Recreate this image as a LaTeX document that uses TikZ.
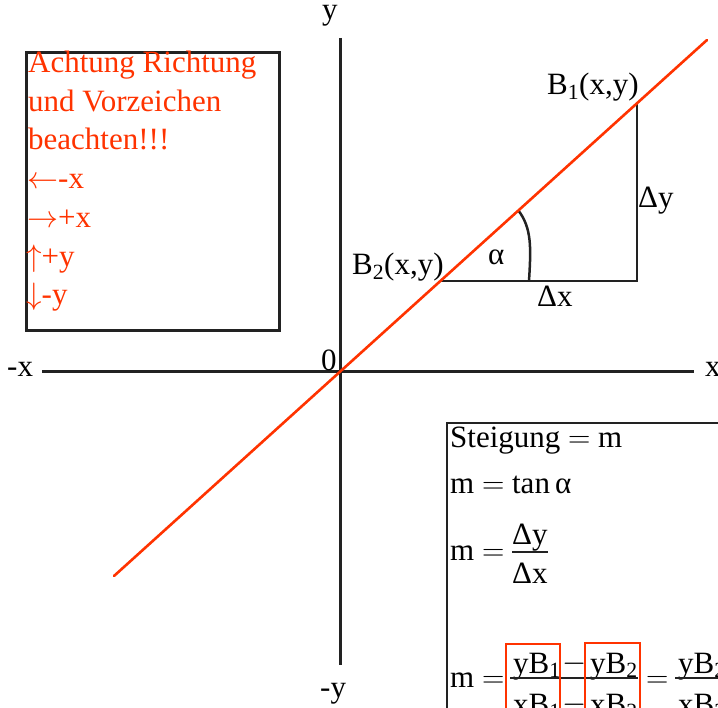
\RequirePackage{fix-cm}
\documentclass[tikz,border=0pt]{standalone}
\usepackage{fontspec}
\setmainfont{Liberation Serif}
\definecolor{rd}{HTML}{FF3300}
\definecolor{ink}{HTML}{222222}
\begin{document}
\begin{tikzpicture}[x=1pt,y=-1pt,
  txt/.style={anchor=base west, inner sep=0pt, font=\fontsize{31}{38}\selectfont},
  rtxt/.style={txt, text=rd},
  axis/.style={draw=ink, line width=3pt},
  frame/.style={draw=ink, line width=2.8pt},
  tri/.style={draw=ink, line width=2.5pt},
  graph/.style={draw=rd, line width=2.6pt, line cap=round},
  hl/.style={draw=rd, line width=2.2pt},
  bar/.style={draw=ink, line width=1.3pt}]
\useasboundingbox (0,0) rectangle (718,708);
\clip (0,0) rectangle (718,708);
% axes
\coordinate (yt) at (340,38);
\coordinate (yb) at (340,665);
\coordinate (xl) at (42,372);
\coordinate (xr) at (694,372);
\draw[axis] (yt) -- (yb);
\draw[axis] (xl) -- (xr);
\node[txt] (ly) at (322,20) {y};
\node[txt] (lmy) at (320,697) {-y};
\node[txt] (lmx) at (7,377) {-x};
\node[txt] (lx) at (705,377) {x};
\node[txt] (l0) at (321,371) {0};
% triangle
\coordinate (B2) at (440,281);
\coordinate (C) at (637,281);
\coordinate (B1) at (637,103);
\draw[tri] (B2) -- (C) -- (B1);
\coordinate (a1) at (518,210);
\coordinate (a2) at (529,281);
\draw[tri] (a1) .. controls (532,228) and (531,248) .. (a2);
% red line
\coordinate (L1) at (114,576);
\coordinate (L2) at (707,40);
\draw[graph] (L1) -- (L2);
% labels
\node[txt] (tB1) at (547,95) {B\textsubscript{1}(x,y)};
\node[txt] (tB2) at (352,275) {B\textsubscript{2}(x,y)};
\node[txt] (tal) at (488,265) {α};
\node[txt] (tdy) at (638,208) {Δy};
\node[txt] (tdx) at (537,307) {Δx};
% left box
\node[frame, draw, inner sep=0pt, minimum width=253pt, minimum height=278pt, anchor=north west] (lbox) at (25,51) {};
\node[rtxt] (r1) at (28,73) {Achtung Richtung};
\node[rtxt] (r2) at (28,112) {und Vorzeichen};
\node[rtxt] (r3) at (28,150) {beachten!!!};
\node[rtxt] (r4) at (27,189) {$\leftarrow$-x};
\node[rtxt] (r5) at (27,228) {$\rightarrow$+x};
\node[rtxt] (r6) at (26,267) {$\uparrow$+y};
\node[rtxt] (r7) at (26,305) {$\downarrow$-y};
% right box
\coordinate (rb1) at (447,740);
\coordinate (rb2) at (447,423);
\coordinate (rb3) at (740,423);
\draw[frame] (rb1) -- (rb2) -- (rb3);
\node[txt] (s1) at (450,448) {Steigung $=$ m};
\node[txt] (s2) at (450,494) {m $=$ tan\,α};
\node[txt] (s3) at (450,560) {m $=$};
\node[txt] (s3n) at (512,544) {Δy};
\node[txt] (s3d) at (512,583) {Δx};
\draw[bar] (s3n.south west |- 0,552) -- (s3n.south east |- 0,552);
\node[txt] (s4) at (450,687) {m $=$};
\node[txt] (n1) at (513,673) {yB\textsubscript{1}};
\node[txt] (m1) at (562,671) {$-$};
\node[txt] (n2) at (590,673) {yB\textsubscript{2}};
\node[txt] (d1) at (513,714) {xB\textsubscript{1}};
\node[txt] (m2) at (562,712) {$-$};
\node[txt] (d2) at (590,714) {xB\textsubscript{2}};
\coordinate (f1) at (510,678);
\coordinate (f2) at (638,678);
\draw[bar] (f1) -- (f2);
\node[txt] (eq2) at (646,687) {$=$};
\node[txt] (n3) at (678,673) {yB\textsubscript{2}};
\node[txt] (d3) at (678,714) {xB\textsubscript{2}};
\coordinate (f3) at (675,678);
\coordinate (f4) at (740,678);
\draw[bar] (f3) -- (f4);
\coordinate (h1a) at (506,644);
\coordinate (h1b) at (560,730);
\coordinate (h2a) at (585,643);
\coordinate (h2b) at (640,730);
\draw[hl] (h1a) rectangle (h1b);
\draw[hl] (h2a) rectangle (h2b);
\end{tikzpicture}
\end{document}
